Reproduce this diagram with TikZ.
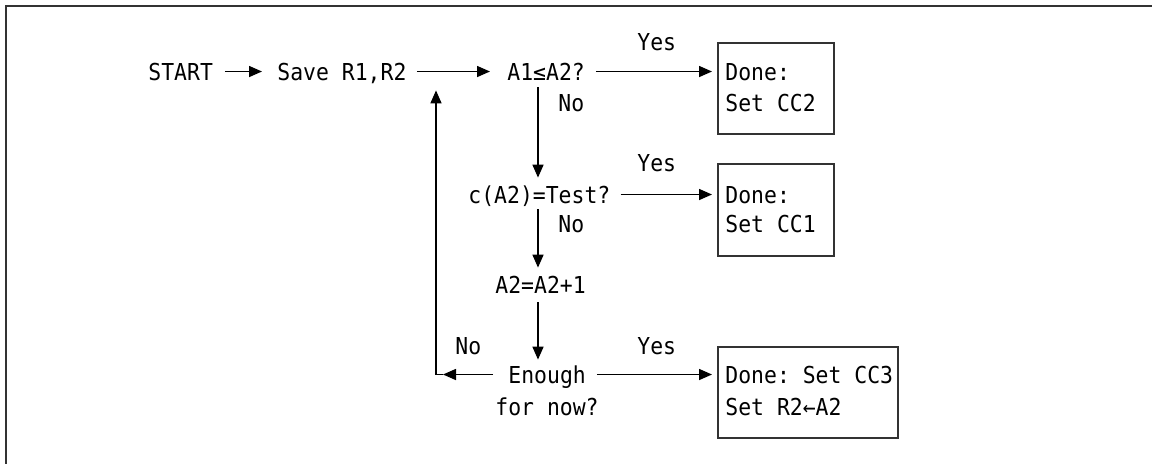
\documentclass[tikz,border=0pt]{standalone}
\usepackage{fontspec}
\newfontfamily\diagmono[FakeStretch=0.919]{DejaVu Sans Mono}
\usetikzlibrary{arrows.meta}
\frenchspacing
\begin{document}
\begin{tikzpicture}[x=0.5pt,y=-0.5pt,
  txt/.style={inner sep=0pt, anchor=base west, text height=8.5pt, text depth=0pt,
    font=\diagmono\fontsize{11.66pt}{14pt}\selectfont\frenchspacing},
  boxnode/.style={draw=black!80, line width=0.75pt, inner sep=0pt, anchor=north west},
  arr/.style={line width=0.8pt, -{Triangle[length=6.5pt,width=5.5pt]}},
  ln/.style={line width=0.8pt},
  frame/.style={draw=black!80, line width=1pt}]
\useasboundingbox (0,0) rectangle (1152,463);
% frame
\draw[frame] (6,470) -- (6,6) -- (1160,6);
% column coordinate for the vertical flow
\coordinate (colx) at (538,0);
% text nodes
\node[txt] (start) at (148,80) {START};
\node[txt] (save) at (277,80) {Save R1,R2};
\node[txt] (a1) at (507,80) {A1≤A2?};
\node[txt] (yes1) at (637,50) {Yes};
\node[txt] (no1) at (558,111) {No};
\node[txt] (ctest) at (468,203) {c(A2)=Test?};
\node[txt] (yes2) at (637,171) {Yes};
\node[txt] (no2) at (558,232) {No};
\node[txt] (inc) at (495,293) {A2=A2+1};
\node[txt] (enough) at (508,383) {Enough};
\node[txt] (fornow) at (495,415) {for now?};
\node[txt] (no3) at (455,354) {No};
\node[txt] (yes3) at (637,354) {Yes};
% boxes
\node[boxnode, minimum width=58pt, minimum height=45.5pt] (box1) at (717,42) {};
\node[boxnode, minimum width=58pt, minimum height=46pt] (box2) at (717,163) {};
\node[boxnode, minimum width=90pt, minimum height=45.5pt] (box3) at (717,346) {};
\node[txt] (d1a) at (725,80) {Done:};
\node[txt] (d1b) at (725,111) {Set CC2};
\node[txt] (d2a) at (725,203) {Done:};
\node[txt] (d2b) at (725,232) {Set CC1};
\node[txt] (d3a) at (725,383) {Done: Set CC3};
\node[txt] (d3b) at (725,415) {Set R2←A2};
% horizontal arrows
\draw[arr, shorten <=5.75pt, shorten >=7.5pt] (start.east) -- (save.west);
\draw[arr, shorten <=5pt, shorten >=8.5pt] (save.east) -- (a1.west);
\draw[arr, shorten <=5.3pt, shorten >=2.5pt] (a1.east) -- (a1.east -| box1.west);
\draw[arr, shorten <=5pt, shorten >=2.5pt] (ctest.east) -- (ctest.east -| box2.west);
\draw[arr, shorten <=5.3pt, shorten >=2.5pt] (enough.east) -- (enough.east -| box3.west);
% vertical arrows
\draw[arr, shorten <=3.5pt, shorten >=4pt] (a1.south -| colx) -- (ctest.north -| colx);
\draw[arr, shorten <=3pt, shorten >=4pt] (ctest.south -| colx) -- (inc.north -| colx);
\draw[arr, shorten <=4.5pt, shorten >=3pt] (inc.south -| colx) -- (enough.north -| colx);
% loop back
\coordinate (corner) at ([xshift=-36pt]enough.west);
\draw[arr, shorten <=7.5pt, shorten >=3.5pt] (enough.west) -- (corner);
\draw[ln] ([xshift=3.5pt]corner) -- (corner);
\draw[arr, shorten >=5pt] (corner) -- (corner |- save.south);
\end{tikzpicture}
\end{document}
